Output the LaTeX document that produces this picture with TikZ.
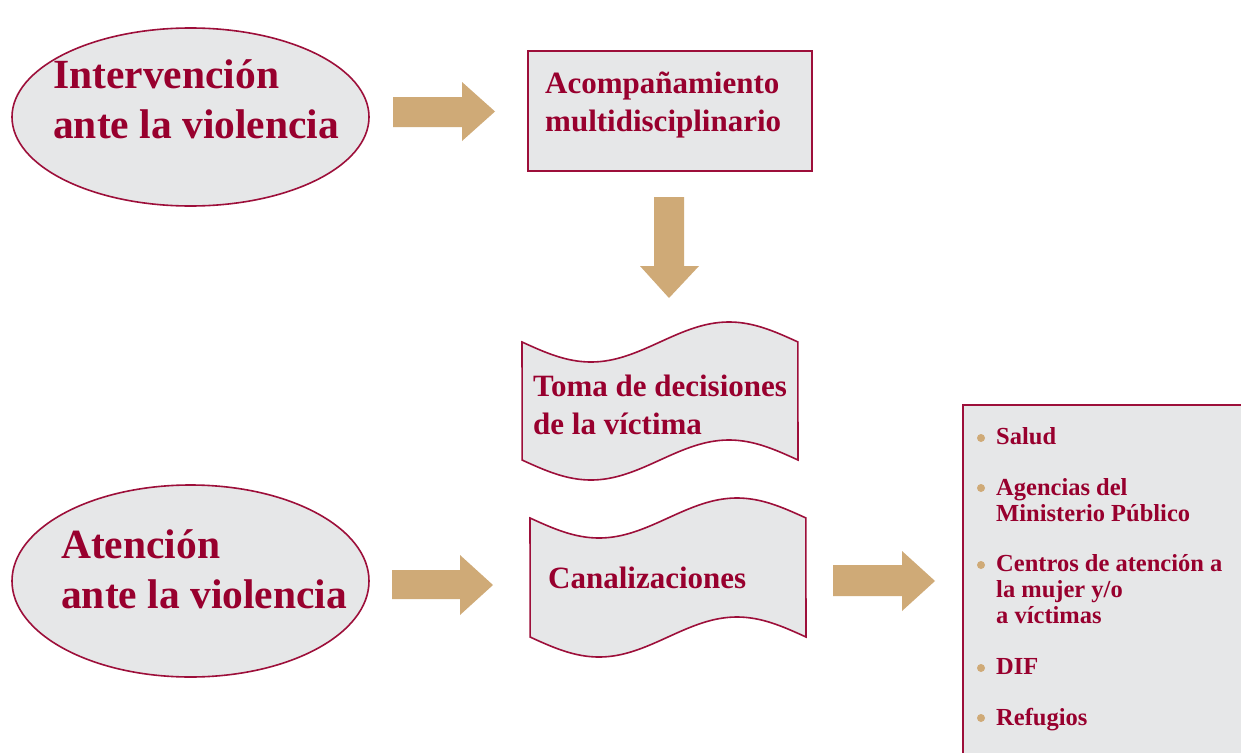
\documentclass[tikz,border=0pt]{standalone}
\usepackage{fontspec}
\setmainfont{Liberation Serif}
\usetikzlibrary{shapes.geometric}
\definecolor{crim}{HTML}{98002E}
\definecolor{edgered}{HTML}{9D0F3A}
\definecolor{shade}{HTML}{E6E7E8}
\definecolor{tanfill}{HTML}{CFAA77}
\begin{document}
\begin{tikzpicture}[x=1pt,y=-1pt,
  shapeline/.style={draw=edgered, line width=1.6pt, fill=shade},
  oval/.style={shapeline, ellipse, inner sep=0pt},
  bigtxt/.style={anchor=base west, inner sep=0pt, text=crim, font=\fontsize{41.5}{48}\selectfont\bfseries},
  midtxt/.style={anchor=base west, inner sep=0pt, text=crim, font=\fontsize{31}{37}\selectfont\bfseries},
  listtxt/.style={anchor=base west, inner sep=0pt, text=crim, font=\fontsize{24.5}{26}\selectfont\bfseries},
  blockarrow/.style={fill=tanfill, draw=none},
  dot/.style={circle, fill=tanfill, minimum size=8pt, inner sep=0pt}
]
\useasboundingbox (0,0) rectangle (1241,752);
\fill[white] (0,0) rectangle (1241,752);
\clip (0,0) rectangle (1241,752);

% ovals
\node[oval, minimum width=357pt, minimum height=178pt] (ov1) at (190.5,117) {};
\node[oval, minimum width=357pt, minimum height=192pt] (ov2) at (190.5,581) {};
\node[bigtxt] (t1a) at (53,88) {Intervención};
\node[bigtxt] (t1b) at (53,138) {ante la violencia};
\node[bigtxt] (t2a) at (61,558) {Atención};
\node[bigtxt] (t2b) at (61,608) {ante la violencia};

% box
\node[shapeline, rectangle, minimum width=284pt, minimum height=120pt] (acomp) at (670,111) {};
\node[midtxt] (ac1) at (545,93) {Acompañamiento};
\node[midtxt] (ac2) at (545,131) {multidisciplinario};

% wavy shapes
\draw[shapeline] plot[domain=0:1, samples=60, smooth] ({522+276*\x},{342+20*sin(360*\x)})
  -- plot[domain=1:0, samples=60, smooth] ({522+276*\x},{460+20*sin(360*\x)}) -- cycle;
\coordinate (toma) at (660,401);
\node[midtxt] (to1) at (533,396) {Toma de decisiones};
\node[midtxt] (to2) at (533,434) {de la víctima};

\draw[shapeline] plot[domain=0:1, samples=60, smooth] ({530+276*\x},{518+20*sin(360*\x)})
  -- plot[domain=1:0, samples=60, smooth] ({530+276*\x},{637+20*sin(360*\x)}) -- cycle;
\coordinate (canal) at (668,578);
\node[midtxt] (can) at (548,588) {Canalizaciones};

% block arrows
\fill[blockarrow] (393,97) -- (462,97) -- (462,82) -- (495,111.5) -- (462,141) -- (462,127) -- (393,127) -- cycle;
\fill[blockarrow] (654,197) -- (684,197) -- (684,266) -- (699,266) -- (669,298) -- (640,266) -- (654,266) -- cycle;
\fill[blockarrow] (392,570) -- (460,570) -- (460,555) -- (493,585) -- (460,615) -- (460,599) -- (392,599) -- cycle;
\fill[blockarrow] (833,565) -- (902,565) -- (902,551) -- (935,581) -- (902,611) -- (902,596) -- (833,596) -- cycle;

% list box
\draw[shapeline] (963,405) rectangle (1260,770);
\node[dot] (b1) at (981,438) {};
\node[dot] (b2) at (981,488) {};
\node[dot] (b3) at (981,565) {};
\node[dot] (b4) at (981,668) {};
\node[dot] (b5) at (981,718) {};
\node[listtxt] (l1) at (996,444) {Salud};
\node[listtxt] (l2a) at (996,495) {Agencias del};
\node[listtxt] (l2b) at (996,521) {Ministerio Público};
\node[listtxt] (l3a) at (996,571) {Centros de atención a};
\node[listtxt] (l3b) at (996,597) {la mujer y/o};
\node[listtxt] (l3c) at (996,623) {a víctimas};
\node[listtxt] (l4) at (996,674) {DIF};
\node[listtxt] (l5) at (996,725) {Refugios};
\end{tikzpicture}
\end{document}
